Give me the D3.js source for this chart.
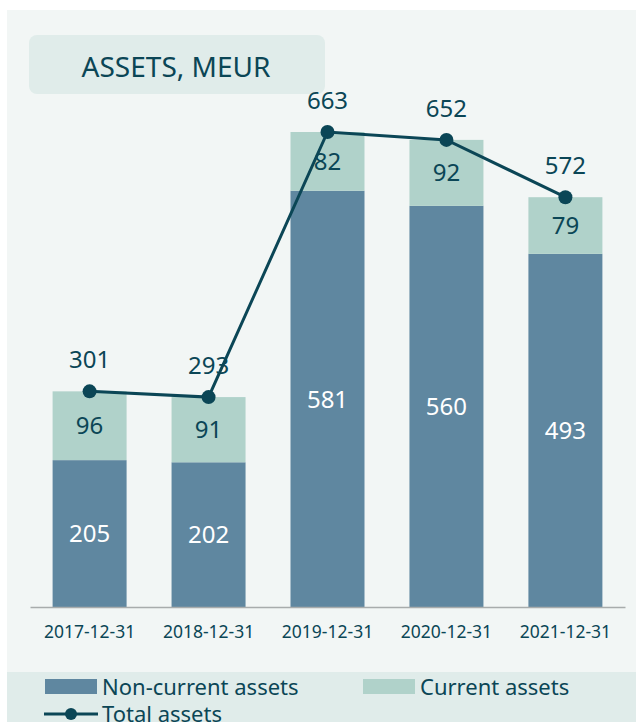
<!DOCTYPE html>
<html lang="en">
<head>
<meta charset="UTF-8" />
<script src="https://cdn.jsdelivr.net/npm/d3@7"></script>
<style>
  body { margin: 0; background: #fff; font-family: 'Noto Sans', sans-serif; }
  svg { display: block; }
</style>
</head>
<body>
<div class="chart"></div>
<script>
  const years = ["2017-12-31", "2018-12-31", "2019-12-31", "2020-12-31", "2021-12-31"];
  const nonCurrent = [205, 202, 581, 560, 493];
  const current = [96, 91, 82, 92, 79];
  const total = [301, 293, 663, 652, 572];

  const width = 636, height = 722;
  const dark = "#0b4656", ncColor = "#5f87a0", cColor = "#b0d2ca";

  const svg = d3.select(".chart").append("svg")
    .attr("width", width)
    .attr("height", height);

  svg.append("rect").attr("x", 7).attr("y", 10).attr("width", width - 7).attr("height", height - 10)
    .attr("fill", "#f2f6f5");

  // title box
  svg.append("rect").attr("x", 29).attr("y", 35).attr("width", 296).attr("height", 59).attr("rx", 8)
    .attr("fill", "#e0ecea");
  svg.append("text").attr("x", 176).attr("y", 77).attr("text-anchor", "middle")
    .attr("font-size", 28).attr("fill", dark).text("ASSETS, MEUR");

  const x = d3.scaleBand().domain(years).range([30, 625]).paddingInner(0.378).paddingOuter(0.19);
  const y = d3.scaleLinear().domain([0, 663]).range([607, 132]);

  const g = svg.append("g");
  const rows = years.map((yr, i) => ({ yr, nc: nonCurrent[i], c: current[i], t: total[i] }));
  const cx = d => x(d.yr) + x.bandwidth() / 2;

  g.selectAll(".nc").data(rows).enter().append("rect")
    .attr("x", d => x(d.yr)).attr("width", x.bandwidth())
    .attr("y", d => y(d.nc)).attr("height", d => y(0) - y(d.nc))
    .attr("fill", ncColor);
  g.selectAll(".c").data(rows).enter().append("rect")
    .attr("x", d => x(d.yr)).attr("width", x.bandwidth())
    .attr("y", d => y(d.nc + d.c)).attr("height", d => y(d.nc) - y(d.nc + d.c))
    .attr("fill", cColor);

  // axis
  const axis = svg.append("g").attr("transform", "translate(0,607)")
    .call(d3.axisBottom(x).tickSize(0).tickPadding(19));
  axis.select(".domain").attr("stroke", "#a8acac").attr("stroke-width", 1.5);
  axis.selectAll("text").attr("font-size", 17.5).attr("fill", dark).attr("font-family", "'Noto Sans', sans-serif");

  // segment labels
  g.selectAll(".ncl").data(rows).enter().append("text")
    .attr("x", cx)
    .attr("y", d => (y(0) + y(d.nc)) / 2).attr("dy", "0.36em")
    .attr("text-anchor", "middle").attr("font-size", 24).attr("fill", "#fff")
    .text(d => d.nc);
  g.selectAll(".cl").data(rows).enter().append("text")
    .attr("x", cx)
    .attr("y", d => (y(d.nc) + y(d.nc + d.c)) / 2).attr("dy", "0.36em")
    .attr("text-anchor", "middle").attr("font-size", 24).attr("fill", dark)
    .text(d => d.c);

  // total line
  const line = d3.line().x(cx).y(d => y(d.t));
  g.append("path").datum(rows).attr("d", line).attr("fill", "none")
    .attr("stroke", dark).attr("stroke-width", 3);
  g.selectAll(".dot").data(rows).enter().append("circle")
    .attr("cx", cx).attr("cy", d => y(d.t)).attr("r", 7)
    .attr("fill", dark);
  g.selectAll(".tl").data(rows).enter().append("text")
    .attr("x", cx)
    .attr("y", d => y(d.t) - 32).attr("dy", "0.36em")
    .attr("text-anchor", "middle").attr("font-size", 24).attr("fill", dark)
    .text(d => d.t);

  // legend
  svg.append("rect").attr("x", 7).attr("y", 672).attr("width", width - 7).attr("height", 50)
    .attr("fill", "#e0ecea");
  const leg = svg.append("g").attr("font-size", 22).attr("fill", dark);
  leg.append("rect").attr("x", 45).attr("y", 679).attr("width", 52).attr("height", 15).attr("fill", ncColor);
  leg.append("text").attr("x", 102).attr("y", 695).text("Non-current assets");
  leg.append("rect").attr("x", 363).attr("y", 679).attr("width", 52).attr("height", 15).attr("fill", cColor);
  leg.append("text").attr("x", 420).attr("y", 695).text("Current assets");
  leg.append("line").attr("x1", 44).attr("x2", 98).attr("y1", 714).attr("y2", 714)
    .attr("stroke", dark).attr("stroke-width", 3);
  leg.append("circle").attr("cx", 71).attr("cy", 714).attr("r", 6).attr("fill", dark);
  leg.append("text").attr("x", 102).attr("y", 722).text("Total assets");
</script>
</body>
</html>
